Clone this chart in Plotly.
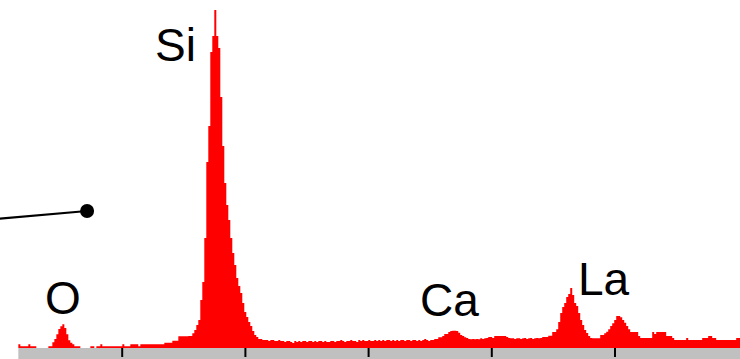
import plotly.graph_objects as go

# ---- data (EDS spectrum, counts per channel, arbitrary units) ----
channel_start_kev = 0.157      # energy of the left edge of the first channel
channel_width_kev = 0.01623    # channel width

counts = [
    # 0.16 - 0.40 keV
    3.7, 1.7, 1.7, 1.7, 1.7, 3.7, 1.7, 1.7, 1.7, 0, 0, 0, 0, 0, 0,
    # O K peak
    1.7, 1.7, 5.7, 9, 13.7, 19, 21.7, 23.7, 20, 13.7, 7.7, 5.3, 3.7, 1.7, 1.7, 1.7,
    # 0.66 - 1.34 keV
    0, 0, 0, 0, 0, 1.7, 1.7, 0, 1.7, 1.7, 3.7,
    1.7, 1.7, 1.7, 1.7, 1.7, 1.7, 1.7, 1.7, 1.7, 1.7,
    3.7, 1.7, 1.7, 1.7, 3.7, 3.7, 3.7, 3.7, 1.7,
    3.7, 3.7, 3.7, 3.7, 3.7, 3.7, 3.7, 3.7, 3.7, 3.7, 3.7, 3.7,
    # rising edge of Si
    5.3, 5.3, 5.3, 5.3, 7.3, 7.3, 7.3, 11.7, 11.7, 11.7, 11.7, 11.7, 12, 12,
    14.7, 18, 23, 28, 48, 66, 110,
    # Si K peak
    186, 222, 296, 312, 338, 312, 300, 251, 202, 165, 143, 128, 110, 95, 83,
    70, 62, 55, 45, 36, 31, 26, 22, 17, 13, 11, 9, 9, 8, 8, 8, 7,
    # background 2.2 - 3.55 keV
    8, 8, 7, 7, 8, 7, 7, 6, 7, 7, 6, 5, 7, 6, 7, 6, 7, 7, 6, 7, 7, 6, 7, 6,
    7, 7, 6, 7, 6, 6, 7, 7, 6, 7, 7, 8, 7, 6, 7, 7, 8, 7, 7, 6, 8, 7, 8, 7,
    7, 8, 7, 7, 8, 7, 8, 7, 8, 7, 8, 8, 7, 8, 7, 8, 7, 8, 8, 7, 8, 8, 7, 8,
    8, 7, 8, 7, 8, 9, 8, 7, 8, 8, 9, 9,
    # Ca K peak
    10.7, 10.7, 12, 14, 14, 16, 17, 17.3, 17.3, 17, 15.3, 13, 12, 10.7, 10,
    9, 8.7, 9, 8.7, 9, 8.7, 9.7, 9, 9.7, 10, 11,
    # 3.98 - 4.45 keV
    11, 10, 12, 12, 12, 12, 12, 12, 11, 10, 9.7, 9.7, 9, 9.7, 9.7, 9, 9.7,
    10, 9, 9.7, 10, 9, 9.7, 10, 9.7, 10, 11, 11, 11, 12.3,
    # La L-alpha peak
    12.3, 16, 16, 18.7, 26, 35, 41, 45, 51, 54, 60, 53, 45, 42, 35, 28, 23,
    18, 15, 12, 10, 9.7, 9.7, 9.7, 9.7,
    # La L-beta and higher lines
    13, 13, 14.7, 16.3, 18.7, 22, 24.7, 28, 32, 32, 30.7, 28, 25.3, 22, 18.7,
    16, 16, 16, 16, 12, 10, 10, 10, 10, 10, 10, 16, 14, 16, 16, 16, 16, 16,
    12, 12, 12, 10, 8, 8, 8, 8, 8, 8, 10, 8, 8, 8, 8, 8, 8, 8, 10, 10, 10,
    12, 12, 10, 10, 8, 8, 8, 8, 8, 8, 8, 8, 8, 8, 10, 10,
]

peak_labels = ["O", "Si", "Ca", "La"]
label_energy = [0.52, 1.43, 3.66, 4.91]
label_height = [50, 303, 48, 69]

tick_values = [1, 2, 3, 4, 5]
axis_end_kev = 6.02

pointer_x = [-0.02, 0.715]
pointer_y = [129, 137]

# ---- figure ----
energies = [channel_start_kev + i * channel_width_kev for i in range(len(counts) + 1)]
step_counts = counts + [counts[-1]]

fig = go.Figure()
fig.add_trace(go.Scatter(
    x=energies, y=step_counts, mode="lines", line=dict(shape="hv", width=0, color="#ff0000"),
    fill="tozeroy", fillcolor="#ff0000", hoverinfo="skip",
))
fig.add_trace(go.Scatter(
    x=pointer_x, y=pointer_y, mode="lines",
    line=dict(color="black", width=2.2), hoverinfo="skip",
))
fig.add_trace(go.Scatter(
    x=pointer_x[-1:], y=pointer_y[-1:], mode="markers",
    marker=dict(size=14, color="#000000", opacity=1, line=dict(width=0)),
    hoverinfo="skip",
))

# gray energy axis strip
fig.add_shape(type="rect", xref="x", yref="y", x0=channel_start_kev, x1=axis_end_kev,
              y0=-11, y1=0, fillcolor="#c0c0c0", line=dict(width=0), layer="below")
for t in tick_values:
    fig.add_shape(type="line", xref="x", yref="y", x0=t, x1=t, y0=0, y1=-9,
                  line=dict(color="black", width=2))

for txt, ex, hy in zip(peak_labels, label_energy, label_height):
    fig.add_annotation(x=ex, y=hy, text=txt, showarrow=False, xanchor="center", yanchor="middle",
                       font=dict(family="Liberation Sans, Arial", size=46, color="black"))

fig.update_layout(
    width=740, height=359, margin=dict(l=0, r=0, t=0, b=0),
    paper_bgcolor="white", plot_bgcolor="white", showlegend=False,
    xaxis=dict(range=[0.0081, 6.0146], visible=False, fixedrange=True),
    yaxis=dict(range=[-11, 348], visible=False, fixedrange=True),
)
fig.write_html("out.html", config={"displayModeBar": False},
               post_script="document.body.style.margin='0px';document.body.style.overflow='hidden';")
